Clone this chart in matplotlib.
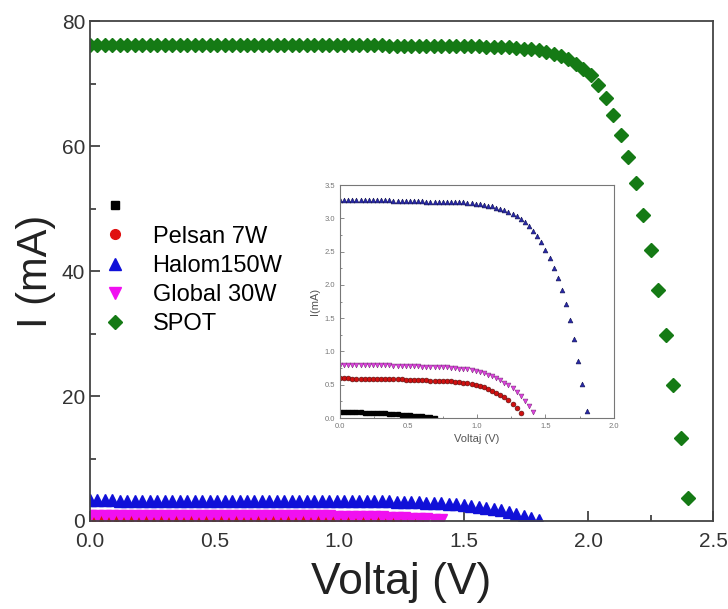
import numpy as np
import matplotlib
matplotlib.use("Agg")
import matplotlib.pyplot as plt
from matplotlib.ticker import MultipleLocator

plt.rcParams['font.family'] = ['Liberation Sans', 'DejaVu Sans']

# voltage sweep (V), shared by all cells, 0.03 V steps
volt = [0.00, 0.03, 0.06, 0.09, 0.12, 0.15, 0.18, 0.21, 0.24, 0.27,
        0.30, 0.33, 0.36, 0.39, 0.42, 0.45, 0.48, 0.51, 0.54, 0.57,
        0.60, 0.63, 0.66, 0.69, 0.72, 0.75, 0.78, 0.81, 0.84, 0.87,
        0.90, 0.93, 0.96, 0.99, 1.02, 1.05, 1.08, 1.11, 1.14, 1.17,
        1.20, 1.23, 1.26, 1.29, 1.32, 1.35, 1.38, 1.41, 1.44, 1.47,
        1.50, 1.53, 1.56, 1.59, 1.62, 1.65, 1.68, 1.71, 1.74, 1.77,
        1.80, 1.83, 1.86, 1.89, 1.92, 1.95, 1.98, 2.01, 2.04, 2.07,
        2.10, 2.13, 2.16, 2.19, 2.22, 2.25, 2.28, 2.31, 2.34, 2.37,
        2.40]

# currents (mA)
i_black = [0.090, 0.090, 0.090, 0.088, 0.086, 0.084, 0.082, 0.080, 0.077, 0.074,
           0.071, 0.068, 0.064, 0.060, 0.056, 0.051, 0.046, 0.041, 0.035, 0.029,
           0.023, 0.016, 0.009, 0.002]
i_pelsan = [0.60, 0.60, 0.60, 0.59, 0.59, 0.59, 0.59, 0.59, 0.59, 0.58,
            0.58, 0.58, 0.58, 0.58, 0.58, 0.58, 0.57, 0.57, 0.57, 0.57,
            0.57, 0.57, 0.56, 0.56, 0.56, 0.55, 0.55, 0.55, 0.54, 0.54,
            0.53, 0.52, 0.51, 0.49, 0.48, 0.46, 0.44, 0.41, 0.38, 0.35,
            0.31, 0.27, 0.21, 0.15, 0.07]
i_halom = [3.28, 3.28, 3.28, 3.28, 3.27, 3.27, 3.27, 3.27, 3.27, 3.27,
           3.27, 3.27, 3.27, 3.26, 3.26, 3.26, 3.26, 3.26, 3.26, 3.26,
           3.26, 3.25, 3.25, 3.25, 3.25, 3.25, 3.25, 3.24, 3.24, 3.24,
           3.24, 3.23, 3.23, 3.22, 3.21, 3.20, 3.19, 3.18, 3.16, 3.14,
           3.12, 3.10, 3.07, 3.03, 2.99, 2.94, 2.88, 2.81, 2.73, 2.64,
           2.53, 2.40, 2.26, 2.10, 1.92, 1.71, 1.47, 1.18, 0.86, 0.51,
           0.10]
i_global = [0.80, 0.80, 0.80, 0.80, 0.80, 0.79, 0.79, 0.79, 0.79, 0.79,
            0.79, 0.79, 0.79, 0.78, 0.78, 0.78, 0.78, 0.78, 0.78, 0.78,
            0.77, 0.77, 0.77, 0.77, 0.76, 0.76, 0.76, 0.75, 0.75, 0.74,
            0.74, 0.73, 0.72, 0.71, 0.69, 0.67, 0.65, 0.63, 0.60, 0.57,
            0.53, 0.49, 0.45, 0.39, 0.33, 0.26, 0.18, 0.09]
i_spot = [76.2, 76.2, 76.2, 76.2, 76.2, 76.2, 76.2, 76.2, 76.2, 76.2,
          76.2, 76.2, 76.2, 76.2, 76.2, 76.2, 76.2, 76.2, 76.2, 76.2,
          76.1, 76.1, 76.1, 76.1, 76.1, 76.1, 76.1, 76.1, 76.1, 76.1,
          76.1, 76.1, 76.1, 76.1, 76.1, 76.1, 76.1, 76.1, 76.1, 76.1,
          76.0, 76.0, 76.0, 76.0, 76.0, 76.0, 76.0, 76.0, 76.0, 76.0,
          76.0, 76.0, 76.0, 75.9, 75.9, 75.8, 75.8, 75.7, 75.6, 75.5,
          75.3, 75.1, 74.8, 74.4, 73.9, 73.2, 72.4, 71.3, 69.8, 67.7,
          65.0, 61.8, 58.3, 54.1, 49.0, 43.4, 37.0, 29.8, 21.8, 13.3,
          3.7]

labels = [' ', 'Pelsan 7W', 'Halom150W', 'Global 30W', 'SPOT']

fig = plt.figure(figsize=(7.28, 6.09), dpi=100)
ax = fig.add_axes([0.1236, 0.1445, 0.8558, 0.821])

# main plot
ax.plot(volt[:len(i_black)], i_black, 's', color='black', ms=6, label=labels[0])
ax.plot(volt[:len(i_pelsan)], i_pelsan, 'o', color='#e01010', ms=7, label=labels[1])
ax.plot(volt[:len(i_halom)], i_halom, '^', color='#1010d8', ms=8, label=labels[2])
ax.plot(volt[:len(i_global)], i_global, 'v', color='#f010f0', ms=8, label=labels[3])
ax.plot(volt, i_spot, 'D', color='#157a15', ms=7, label=labels[4])

ax.set_xlim(0, 2.5)
ax.set_ylim(0, 80)
ax.xaxis.set_major_locator(MultipleLocator(0.5))
ax.xaxis.set_minor_locator(MultipleLocator(0.25))
ax.yaxis.set_major_locator(MultipleLocator(20))
ax.yaxis.set_minor_locator(MultipleLocator(10))
ax.xaxis.set_major_formatter(matplotlib.ticker.FormatStrFormatter('%.1f'))
ax.tick_params(which='both', direction='in', colors='#333333', labelsize=15, width=1.2)
ax.tick_params(which='major', length=7)
ax.tick_params(which='minor', length=4)
ax.tick_params(axis='x', pad=8)
for s in ax.spines.values():
    s.set_color('#444444')
    s.set_linewidth(1.3)

ax.set_xlabel('Voltaj (V)', fontsize=32, color='#222222', labelpad=8)
ax.set_ylabel('I (mA)', fontsize=30, color='#222222', labelpad=4)

ax.legend(loc='upper left', bbox_to_anchor=(0.0, 0.67), frameon=False, fontsize=17,
          handlelength=1.2, handletextpad=1.0, labelspacing=0.3,
          borderaxespad=0.0, borderpad=0.45)

# inset
axin = fig.add_axes([0.467, 0.3136, 0.3764, 0.3826])
axin.plot(volt[:len(i_black)], i_black, 's', color='black', ms=3)
axin.plot(volt[:len(i_pelsan)], i_pelsan, 'o', color='#d01010', mec='#501010', mew=0.4, ms=3.5)
axin.plot(volt[:len(i_global)], i_global, 'v', color='#e040e0', mec='#803080', mew=0.4, ms=3.5)
axin.plot(volt[:len(i_halom)], i_halom, '^', color='#2828a8', mec='#101050', mew=0.4, ms=3.5)

axin.set_xlim(0, 2.0)
axin.set_ylim(0, 3.5)
axin.xaxis.set_major_locator(MultipleLocator(0.5))
axin.xaxis.set_minor_locator(MultipleLocator(0.25))
axin.yaxis.set_major_locator(MultipleLocator(0.5))
axin.yaxis.set_minor_locator(MultipleLocator(0.25))
axin.xaxis.set_major_formatter(matplotlib.ticker.FormatStrFormatter('%.1f'))
axin.yaxis.set_major_formatter(matplotlib.ticker.FormatStrFormatter('%.1f'))
axin.tick_params(which='both', direction='in', colors='#777777', labelsize=5.5, width=0.6)
axin.tick_params(which='major', length=3)
axin.tick_params(which='minor', length=1.5)
for s in axin.spines.values():
    s.set_color('#777777')
    s.set_linewidth(0.8)
axin.set_xlabel('Voltaj (V)', fontsize=8, color='#555555', labelpad=3)
axin.set_ylabel('I(mA)', fontsize=8, color='#555555', labelpad=3)

fig.savefig('out.png', dpi=100)
